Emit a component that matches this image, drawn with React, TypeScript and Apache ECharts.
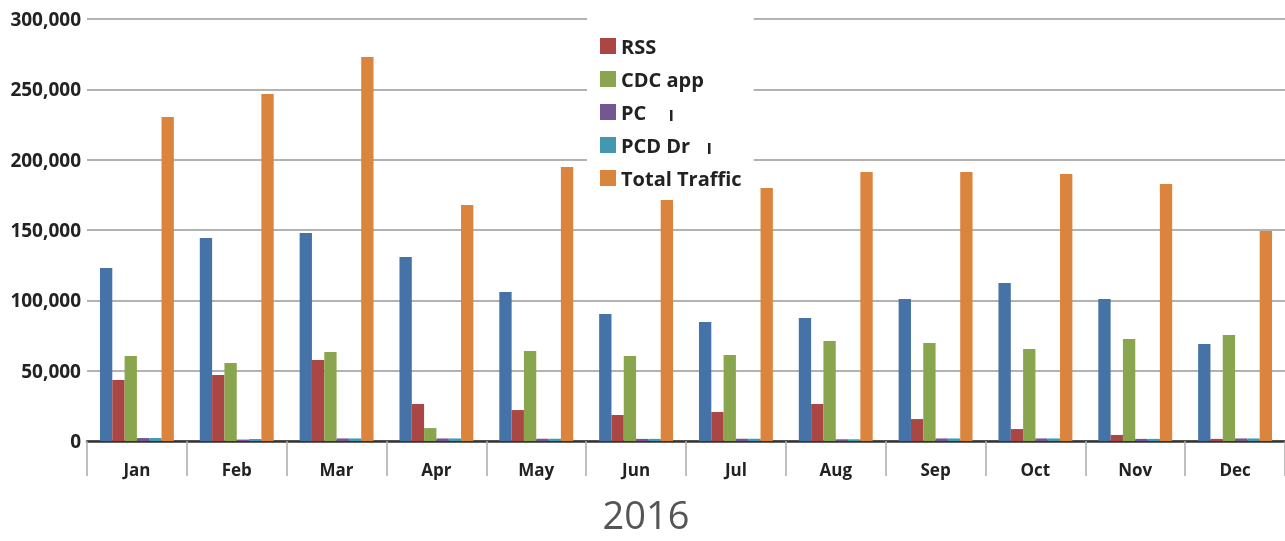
import React, { useEffect, useRef } from "react";
import * as echarts from "echarts";

const months = ["Jan", "Feb", "Mar", "Apr", "May", "Jun", "Jul", "Aug", "Sep", "Oct", "Nov", "Dec"];
const web = [123000, 144300, 147900, 130800, 106000, 90300, 84600, 87400, 101000, 112300, 101000, 69000];
const rss = [43400, 46900, 57600, 26300, 22000, 18500, 20600, 26300, 15600, 8500, 4300, 1500];
const cdcApp = [60400, 55500, 63300, 9200, 64000, 60400, 61100, 71100, 69700, 65400, 72500, 75400];
const pc = [2100, 1000, 1800, 1800, 1600, 1500, 1600, 1200, 1800, 1800, 1500, 1800];
const pcdDr = [2100, 1400, 1800, 1800, 1600, 1500, 1600, 1200, 1800, 1800, 1500, 1800];
const totalTraffic = [230300, 246700, 273000, 167800, 194800, 173500, 179900, 191200, 191200, 189800, 182700, 149300];
const legendNames = ["RSS", "CDC app", "PC", "PCD Dr", "Total Traffic"];
const yearLabel = "2016";

export default function App() {
  const ref = useRef<HTMLDivElement>(null);
  useEffect(() => {
    if (!ref.current) return;
    const chart = echarts.init(ref.current, null, { renderer: "svg" });
    const font = "'Open Sans', 'Noto Sans', sans-serif";
    const mk = (name: string, data: number[], color: string) => ({
      name,
      type: "bar",
      data,
      barGap: "0%",
      barCategoryGap: "26%",
      itemStyle: { color },
    });
    chart.setOption({
      animation: false,
      textStyle: { fontFamily: font },
      grid: { left: 87, right: 0, top: 19, bottom: 100 },
      legend: {
        orient: "vertical",
        left: 587,
        top: 12,
        data: legendNames,
        backgroundColor: "#ffffff",
        padding: [24, 12, 12, 13],
        itemWidth: 16,
        itemHeight: 16,
        itemGap: 13,
        icon: "rect",
        textStyle: { fontSize: 20, fontWeight: 700, color: "#222", fontFamily: font, lineHeight: 20 },
      },
      xAxis: {
        type: "category",
        data: months,
        axisLine: { lineStyle: { color: "#333", width: 2.5 } },
        axisTick: { show: true, interval: 0, length: 35, lineStyle: { color: "#aaa", width: 1.5 } },
        axisLabel: { fontSize: 17, fontWeight: 700, color: "#222", margin: 20, fontFamily: font },
      },
      yAxis: {
        type: "value",
        min: 0,
        max: 300000,
        interval: 50000,
        axisLine: { show: false },
        axisTick: { show: false },
        splitLine: { lineStyle: { color: "#999", width: 1.5 } },
        axisLabel: {
          fontSize: 19,
          fontWeight: 700,
          color: "#222",
          margin: 6,
          fontFamily: font,
          formatter: (v: number) => v.toLocaleString("en-US"),
        },
      },
      graphic: [
        {
          type: "text",
          x: 646,
          y: 514,
          style: {
            text: yearLabel,
            fontSize: 38,
            lineHeight: 40,
            fill: "#555",
            fontFamily: font,
            align: "center",
            verticalAlign: "middle",
          },
        },
        { type: "rect", left: 670, top: 110, shape: { width: 2.5, height: 11 }, style: { fill: "#222" }, z: 100 },
        { type: "rect", left: 708, top: 143, shape: { width: 2.5, height: 11 }, style: { fill: "#222" }, z: 100 },
      ],
      series: [
        mk("Web", web, "#4572A7"),
        mk("RSS", rss, "#AA4643"),
        mk("CDC app", cdcApp, "#89A54E"),
        mk("PC", pc, "#71588F"),
        mk("PCD Dr", pcdDr, "#4198AF"),
        mk("Total Traffic", totalTraffic, "#DB843D"),
      ],
    });
    return () => chart.dispose();
  }, []);
  return <div ref={ref} style={{ position: "fixed", left: 0, top: 0, width: 1285, height: 541 }} />;
}
